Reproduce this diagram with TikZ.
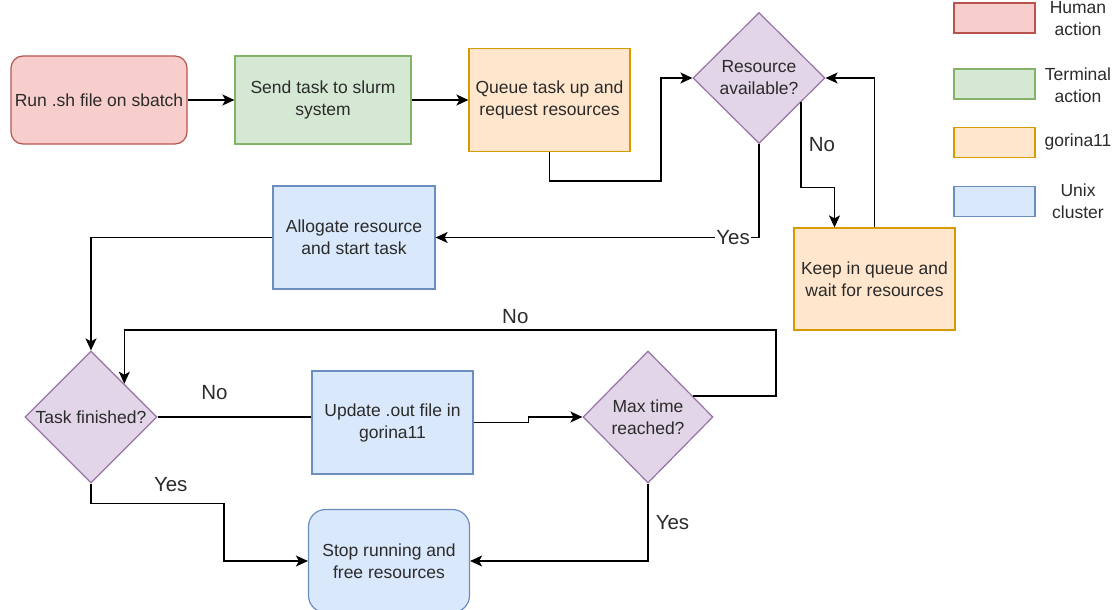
\documentclass[tikz,border=0pt]{standalone}
\usepackage{fontspec}
\setmainfont{Liberation Sans}
\usetikzlibrary{shapes.geometric,arrows.meta}

\definecolor{humanfill}{HTML}{F8CECC}
\definecolor{humanline}{HTML}{B85450}
\definecolor{termfill}{HTML}{D5E8D4}
\definecolor{termline}{HTML}{82B366}
\definecolor{gorfill}{HTML}{FFE6CC}
\definecolor{gorline}{HTML}{D79B00}
\definecolor{unixfill}{HTML}{DAE8FC}
\definecolor{unixline}{HTML}{6C8EBF}
\definecolor{askfill}{HTML}{E1D5E7}
\definecolor{askline}{HTML}{9673A6}
\definecolor{txt}{HTML}{2B2B2B}

\tikzset{
  box/.style={draw, line width=1.2pt, align=center, inner sep=0pt, text=txt,
    font=\fontsize{17.5}{22}\selectfont},
  human/.style={box, fill=humanfill, draw=humanline},
  term/.style={box, fill=termfill, draw=termline},
  gor/.style={box, fill=gorfill, draw=gorline},
  unix/.style={box, fill=unixfill, draw=unixline},
  ask/.style={box, diamond, aspect=1, fill=askfill, draw=askline},
  legendbox/.style={draw, line width=1.2pt, minimum width=81, minimum height=30, inner sep=0pt},
  legendtxt/.style={align=center, inner sep=0pt, text=txt, font=\fontsize{17.5}{22}\selectfont},
  lbl/.style={inner sep=0pt, text=txt, font=\fontsize{20.5}{24}\selectfont},
  arr/.style={line width=1.5pt, -{Stealth[length=12pt, width=11pt, inset=3pt]}},
  con/.style={line width=1.5pt}
}

\begin{document}
\begin{tikzpicture}[x=1pt, y=-1pt]
\useasboundingbox (0,0) rectangle (1117,610);

\node[human, rounded corners=12pt, minimum width=176, minimum height=88] (run) at (99,100) {Run .sh file on sbatch};
\node[term, minimum width=176, minimum height=88] (send) at (323,100) {Send task to slurm\\system};
\node[gor, minimum width=161, minimum height=103] (queue) at (549.5,100) {Queue task up and\\request resources};
\node[ask, minimum width=132, minimum height=131] (avail) at (759,78) {Resource\\available?};
\node[gor, minimum width=161, minimum height=102] (keep) at (874.5,279) {Keep in queue and\\wait for resources};
\node[unix, minimum width=162, minimum height=103] (alloc) at (354,237.5) {Allogate resource\\and start task};
\node[ask, minimum width=132, minimum height=132] (done) at (91,417) {Task finished?};
\node[unix, minimum width=161, minimum height=103] (update) at (392.5,422.5) {Update .out file in\\gorina11};
\node[ask, minimum width=130, minimum height=132] (maxt) at (648,417) {Max time\\reached?};
\node[unix, rounded corners=17pt, minimum width=161, minimum height=103] (stop) at (389,561) {Stop running and\\free resources};

\node[legendbox, fill=humanfill, draw=humanline] (lhuman) at (994.5,18) {};
\node[legendbox, fill=termfill, draw=termline] (lterm) at (994.5,84) {};
\node[legendbox, fill=gorfill, draw=gorline] (lgor) at (994.5,142.5) {};
\node[legendbox, fill=unixfill, draw=unixline] (lunix) at (994.5,201.5) {};
\node[legendtxt] (thuman) at (1078,19) {Human\\action};
\node[legendtxt] (tterm) at (1078,85) {Terminal\\action};
\node[legendtxt] (tgor) at (1078,142) {gorina11};
\node[legendtxt] (tunix) at (1078,201) {Unix\\cluster};

\draw[arr] (run) -- (send);
\draw[arr] (send) -- (queue);
\draw[arr] (queue.south) |- (661,181) |- (avail.west);
\draw[arr] (avail.south) |- (alloc.east) node[lbl, pos=0.54, fill=white, inner sep=1pt] {Yes};
\draw[arr] (avail.-30) -- ++(0,85) node[lbl, midway, right=7pt] {No} -| ([xshift=-40]keep.north);
\draw[arr] (keep.north) |- (avail.east);
\draw[arr] (alloc.west) -| (done.north);
\draw[con] (done.east) -- (done.east -| update.west) node[lbl, pos=0.37, above=17pt] {No};
\draw[arr] (update.east) -- ++(55,0) |- (maxt.west);
\draw[arr] (maxt.25) -| (776,330) -| (done.north east) node[lbl, pos=0.2, above=6pt] {No};
\draw[arr] (done.south) -- ++(0,20) -| ([xshift=-84]stop.west) node[lbl, pos=0.3, above=11pt] {Yes} -- (stop.west);
\draw[arr] (maxt.south) |- (stop.east) node[lbl, pos=0.25, right=7pt] {Yes};

\end{tikzpicture}
\end{document}
